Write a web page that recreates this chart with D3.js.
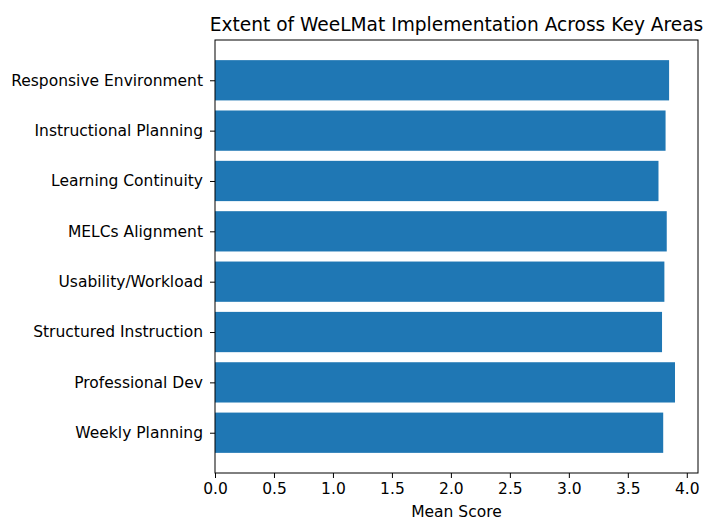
<!DOCTYPE html>
<html>
<head>
<meta charset="utf-8">
<script src="https://cdn.jsdelivr.net/npm/d3@7"></script>
<style>
body { margin: 0; background: #fff; }
svg { font-family: "DejaVu Sans", sans-serif; }
</style>
</head>
<body>
<div id="chart"></div>
<script>
var categories = ["Responsive Environment", "Instructional Planning", "Learning Continuity",
  "MELCs Alignment", "Usability/Workload", "Structured Instruction", "Professional Dev", "Weekly Planning"];
var scores = [3.85, 3.82, 3.76, 3.83, 3.81, 3.79, 3.90, 3.80];
var xTicks = [0, 0.5, 1, 1.5, 2, 2.5, 3, 3.5, 4];

var width = 706, height = 520;
var margin = {left: 215, right: 8, top: 40, bottom: 47};

var svg = d3.select("#chart").append("svg")
  .attr("width", width)
  .attr("height", height);

var x = d3.scaleLinear()
  .domain([0, d3.max(scores) * 1.05])
  .range([margin.left, width - margin.right]);

// bar centres at integer positions, bar height 0.8
var n = categories.length;
var y = d3.scaleLinear()
  .domain([-0.8, n - 1 + 0.8])
  .range([height - margin.bottom, margin.top]);
var barH = Math.abs(y(0.8) - y(0));

var g = svg.append("g");

g.selectAll(".bar")
  .data(scores)
  .enter().append("rect")
  .attr("class", "bar")
  .attr("x", x(0))
  .attr("y", function(d, i) { return y(n - 1 - i + 0.4); })
  .attr("width", function(d) { return x(d) - x(0); })
  .attr("height", barH)
  .attr("fill", "#1f77b4");

// frame
g.append("rect")
  .attr("x", x.range()[0])
  .attr("y", margin.top)
  .attr("width", x.range()[1] - x.range()[0])
  .attr("height", height - margin.bottom - margin.top)
  .attr("fill", "none")
  .attr("stroke", "#000")
  .attr("stroke-width", 1);

var xAxis = d3.axisBottom(x)
  .tickValues(xTicks)
  .tickFormat(d3.format(".1f"))
  .tickSize(5)
  .tickPadding(5);

svg.append("g")
  .attr("transform", "translate(0," + (height - margin.bottom) + ")")
  .call(xAxis)
  .call(function(s) { s.select(".domain").remove(); })
  .selectAll("text")
  .attr("font-size", 15.5)
  .attr("font-family", "DejaVu Sans")
  .attr("fill", "#000");

var yAxis = d3.axisLeft(y)
  .tickValues(d3.range(n))
  .tickFormat(function(d) { return categories[n - 1 - d]; })
  .tickSize(5)
  .tickPadding(7);

svg.append("g")
  .attr("transform", "translate(" + margin.left + ",0)")
  .call(yAxis)
  .call(function(s) { s.select(".domain").remove(); })
  .selectAll("text")
  .attr("font-size", 15.5)
  .attr("font-family", "DejaVu Sans")
  .attr("fill", "#000");

svg.append("text")
  .attr("x", (x.range()[0] + x.range()[1]) / 2)
  .attr("y", 517)
  .attr("text-anchor", "middle")
  .attr("font-size", 15.5)
  .text("Mean Score");

svg.append("text")
  .attr("x", (x.range()[0] + x.range()[1]) / 2)
  .attr("y", 31)
  .attr("text-anchor", "middle")
  .attr("font-size", 18.6)
  .text("Extent of WeeLMat Implementation Across Key Areas");
</script>
</body>
</html>
